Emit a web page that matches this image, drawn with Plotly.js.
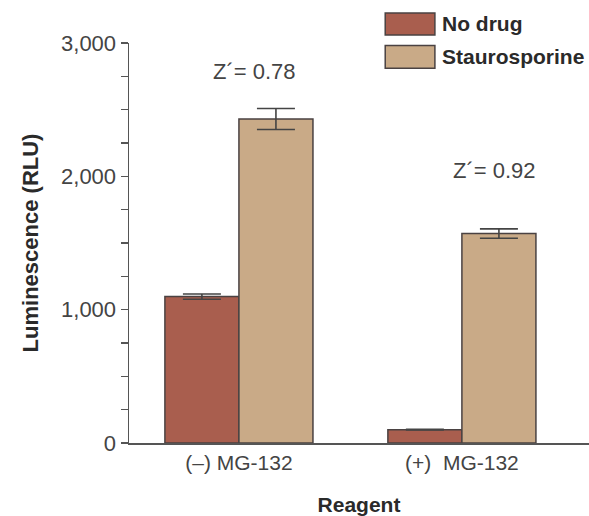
<!DOCTYPE html>
<html>
<head>
<meta charset="utf-8">
<script src="https://cdn.plot.ly/plotly-3.0.1.min.js"></script>
<style>html,body{margin:0;padding:0;background:#fff;}#chart{width:589px;height:516px;}</style>
</head>
<body>
<div id="chart"></div>
<script>
var categories = ["(–) MG-132", "(+)  MG-132"];
var seriesNames = ["No drug", "Staurosporine"];
var noDrug = [1098, 100];
var noDrugErr = [20, 3];
var stauro = [2430, 1571];
var stauroErr = [79, 35];
var zPrimeLabels = ["Z´= 0.78", "Z´= 0.92"];
var yTickVals = [0, 1000, 2000, 3000];
var yTickText = ["0", "1,000", "2,000", "3,000"];

var colors = ["#a95e4e", "#c9aa87"];
var outline = {color: "#4a4242", width: 1.5};
var errStyle = {type: "data", visible: true, color: "#444", thickness: 1.6, width: 19};
var xIdx = [0, 1];

var traces = [
  {type: "bar", name: seriesNames[0], x: xIdx, y: noDrug,
   error_y: Object.assign({array: noDrugErr}, errStyle),
   marker: {color: colors[0], line: outline}, showlegend: false},
  {type: "bar", name: seriesNames[1], x: xIdx, y: stauro,
   error_y: Object.assign({array: stauroErr}, errStyle),
   marker: {color: colors[1], line: outline}, showlegend: false}
];

var boldFont = "'Liberation Sans', Arial, sans-serif";
var plain = "'Liberation Sans', Arial, sans-serif";

var annotations = [
  {xref: "x", yref: "y", x: 0.072, y: 2790, text: zPrimeLabels[0], showarrow: false,
   font: {family: plain, size: 22, color: "#444"}},
  {xref: "x", yref: "y", x: 1.148, y: 2041, text: zPrimeLabels[1], showarrow: false,
   font: {family: plain, size: 22, color: "#444"}},
  {xref: "paper", yref: "paper", x: 0.675, y: 1.048, xanchor: "left", yanchor: "middle",
   text: "<b>" + seriesNames[0] + "</b>", showarrow: false,
   font: {family: boldFont, size: 21, color: "#2a2a2a"}},
  {xref: "paper", yref: "paper", x: 0.675, y: 0.966, xanchor: "left", yanchor: "middle",
   text: "<b>" + seriesNames[1] + "</b>", showarrow: false,
   font: {family: boldFont, size: 21, color: "#2a2a2a"}}
];

var shapes = [
  {type: "rect", xref: "paper", yref: "paper", x0: 0.557, x1: 0.665, y0: 1.02, y1: 1.075,
   fillcolor: colors[0], line: {color: "#4a4242", width: 1.5}},
  {type: "rect", xref: "paper", yref: "paper", x0: 0.557, x1: 0.665, y0: 0.937, y1: 0.994,
   fillcolor: colors[1], line: {color: "#4a4242", width: 1.5}}
];

var layout = {
  width: 589, height: 516,
  margin: {l: 129, r: 0, t: 43, b: 72.5},
  paper_bgcolor: "#fff", plot_bgcolor: "#fff",
  barmode: "group", bargap: 0.336, bargroupgap: 0,
  xaxis: {
    range: [-0.493, 1.57], tickvals: xIdx, ticktext: categories,
    showline: true, linecolor: "#555", linewidth: 1.5, ticks: "", showgrid: false, zeroline: false,
    tickfont: {family: plain, size: 21, color: "#444"},
    title: {text: "<b>Reagent</b>", font: {family: boldFont, size: 21, color: "#2a2a2a"}, standoff: 26}
  },
  yaxis: {
    range: [0, 3000], tickvals: yTickVals, ticktext: yTickText,
    showline: true, linecolor: "#555", linewidth: 1.5, ticks: "outside", ticklen: 7, tickwidth: 1.5,
    tickcolor: "#555", showgrid: false, zeroline: false,
    minor: {dtick: 250, ticks: "outside", ticklen: 7, tickwidth: 1.5, tickcolor: "#555", showgrid: false},
    tickfont: {family: plain, size: 22, color: "#444"},
    title: {text: "<b>Luminescence (RLU)</b>", font: {family: boldFont, size: 22, color: "#2a2a2a"}, standoff: 16}
  },
  annotations: annotations,
  shapes: shapes,
  showlegend: false
};

Plotly.newPlot("chart", traces, layout, {displayModeBar: false, staticPlot: true});
</script>
</body>
</html>
